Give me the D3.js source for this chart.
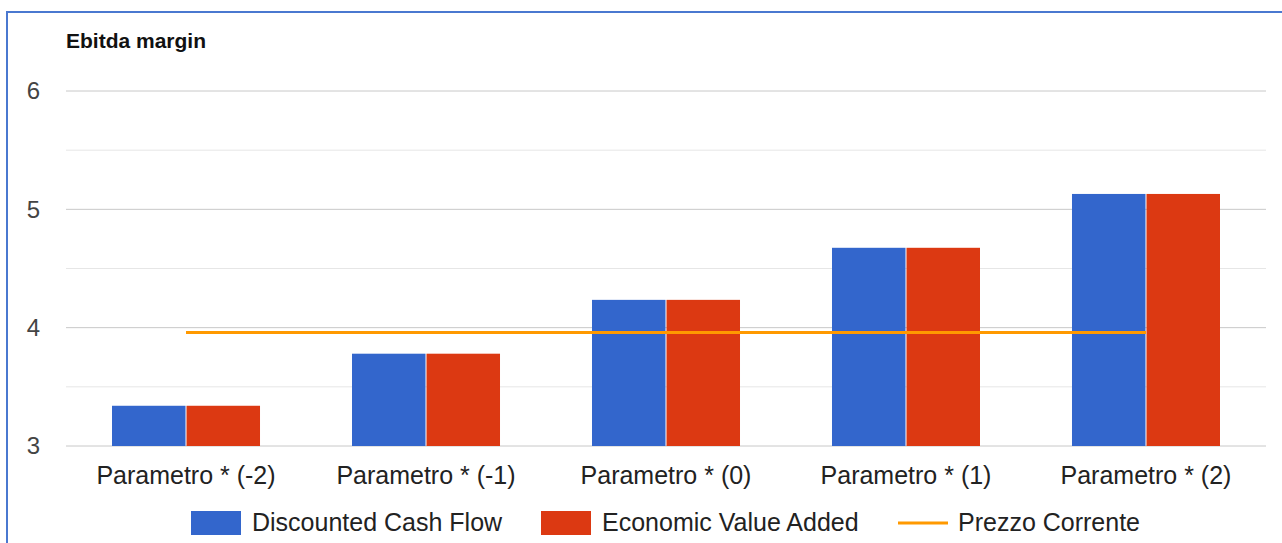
<!DOCTYPE html>
<html lang="en">
<head>
    <meta charset="UTF-8">
    <title>Ebitda margin</title>
    <script src="https://d3js.org/d3.v7.min.js"></script>
    <style>
        body { margin: 0; background: #fff; }
        svg { display: block; font-family: Arial, "Liberation Sans", sans-serif; }
    </style>
</head>
<body>
    <svg width="1282" height="543"></svg>

    <script>
        // Data
        const categories = ["Parametro * (-2)", "Parametro * (-1)", "Parametro * (0)", "Parametro * (1)", "Parametro * (2)"];
        const dcf = [3.34, 3.78, 4.235, 4.675, 5.13];
        const eva = [3.34, 3.78, 4.235, 4.675, 5.13];
        const prezzo = [3.96, 3.96, 3.96, 3.96, 3.96];
        const yTicks = [3, 4, 5, 6];
        const yMinorTicks = [3.5, 4.5, 5.5];

        const width = 1282, height = 543;
        const margin = {top: 91, right: 16, bottom: 97, left: 66};

        const svg = d3.select("svg");

        // outer blue frame (only top and left edges visible)
        svg.append("rect")
            .attr("x", 7).attr("y", 12)
            .attr("width", 1300).attr("height", 600)
            .attr("fill", "none")
            .attr("stroke", "#4a78d0")
            .attr("stroke-width", 2);

        const x = d3.scaleBand()
            .domain(categories)
            .range([margin.left, width - margin.right])
            .paddingInner(0.3833)
            .paddingOuter(0.1917);

        const y = d3.scaleLinear()
            .domain([3, 6])
            .range([height - margin.bottom, margin.top]);

        const x1 = d3.scaleBand()
            .domain(["dcf", "eva"])
            .range([0, x.bandwidth()])
            .paddingInner(0.0135);

        // gridlines
        svg.append("g").selectAll("line")
            .data(yMinorTicks)
            .join("line")
            .attr("x1", margin.left).attr("x2", width - margin.right)
            .attr("y1", d => y(d)).attr("y2", d => y(d))
            .attr("stroke", "#e6e6e6").attr("stroke-width", 1);

        svg.append("g").selectAll("line")
            .data(yTicks)
            .join("line")
            .attr("x1", margin.left).attr("x2", width - margin.right)
            .attr("y1", d => y(d)).attr("y2", d => y(d))
            .attr("stroke", "#c8c8c8").attr("stroke-width", 1);

        // y tick labels
        svg.append("g").selectAll("text")
            .data(yTicks)
            .join("text")
            .attr("x", 40)
            .attr("y", d => y(d))
            .attr("dy", "0.35em")
            .attr("text-anchor", "end")
            .attr("font-size", "24px")
            .attr("fill", "#444")
            .text(d => d);

        // title
        svg.append("text")
            .attr("x", 66).attr("y", 48)
            .attr("font-size", "21px")
            .attr("font-weight", "bold")
            .attr("fill", "#111")
            .text("Ebitda margin");

        // bars
        const series = [
            {key: "dcf", values: dcf, color: "#3366cc"},
            {key: "eva", values: eva, color: "#dc3912"}
        ];
        series.forEach(s => {
            svg.append("g").selectAll("rect")
                .data(categories)
                .join("rect")
                .attr("x", (c) => x(c) + x1(s.key))
                .attr("y", (c, i) => y(s.values[i]))
                .attr("width", x1.bandwidth())
                .attr("height", (c, i) => y(3) - y(s.values[i]))
                .attr("fill", s.color);
        });

        // line series
        const line = d3.line()
            .x((d, i) => x(categories[i]) + x.bandwidth() / 2)
            .y(d => y(d));
        svg.append("path")
            .datum(prezzo)
            .attr("d", line)
            .attr("fill", "none")
            .attr("stroke", "#ff9900")
            .attr("stroke-width", 3);

        // x labels
        svg.append("g").selectAll("text")
            .data(categories)
            .join("text")
            .attr("x", c => x(c) + x.bandwidth() / 2)
            .attr("y", 484)
            .attr("text-anchor", "middle")
            .attr("font-size", "25px")
            .attr("fill", "#222")
            .text(c => c);

        // legend
        const legend = svg.append("g");
        const ly = 522;
        legend.append("rect").attr("x", 191).attr("y", ly - 11).attr("width", 50).attr("height", 24).attr("fill", "#3366cc");
        legend.append("text").attr("x", 252).attr("y", 531).attr("font-size", "25px").attr("fill", "#222").text("Discounted Cash Flow");
        legend.append("rect").attr("x", 541).attr("y", ly - 11).attr("width", 50).attr("height", 24).attr("fill", "#dc3912");
        legend.append("text").attr("x", 602).attr("y", 531).attr("font-size", "25px").attr("fill", "#222").text("Economic Value Added");
        legend.append("line").attr("x1", 898).attr("x2", 948).attr("y1", ly + 1).attr("y2", ly + 1).attr("stroke", "#ff9900").attr("stroke-width", 3);
        legend.append("text").attr("x", 958).attr("y", 531).attr("font-size", "25px").attr("fill", "#222").text("Prezzo Corrente");
    </script>
</body>
</html>
